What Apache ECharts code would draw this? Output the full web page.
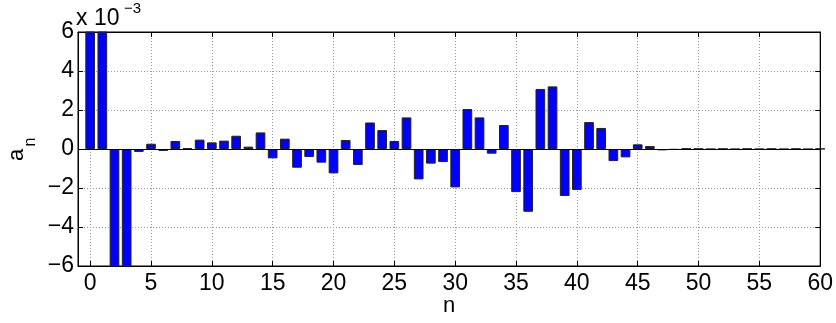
<!DOCTYPE html>
<html><head><meta charset="utf-8">
<script src="https://cdn.jsdelivr.net/npm/echarts@6/dist/echarts.min.js"></script>
<style>html,body{margin:0;padding:0;background:#fff}#c{width:836px;height:323px}</style>
</head><body><div id="c"></div>
<script>
// n index
const nValues = [];
for (let i = 0; i <= 60; i++) nValues.push(i);
// a_n values, in units of 1e-3 (n = 0 .. 60)
const aValues = [
  14, 11, -12, -9, -0.15, 0.27, -0.10, 0.41, 0.05, 0.48,
  0.34, 0.43, 0.68, 0.12, 0.85, -0.48, 0.53, -0.96, -0.41, -0.70,
  -1.25, 0.46, -0.82, 1.36, 0.97, 0.41, 1.62, -1.56, -0.75, -0.67,
  -1.97, 2.05, 1.62, -0.24, 1.23, -2.21, -3.22, 3.08, 3.21, -2.41,
  -2.10, 1.38, 1.08, -0.62, -0.43, 0.24, 0.15, -0.07, -0.04, 0.02,
  0.01, -0.01, 0.01, -0.01, 0.01, -0.01, 0.01, -0.01, 0.01, -0.01, 0.01
];
const xTicks = [0, 5, 10, 15, 20, 25, 30, 35, 40, 45, 50, 55, 60];
const yTicks = [-6, -4, -2, 0, 2, 4, 6];

const FONT = 'Liberation Sans, Arial, Helvetica, sans-serif';
const FS = 23;
const chart = echarts.init(document.getElementById('c'), null, {renderer: 'canvas'});
const fmtY = v => (v < 0 ? '\u2212' + Math.abs(v) : String(v));
const gridLine = {show: true, lineStyle: {color: '#9a9a9a', type: [1, 2], width: 1}};
const axLine = {show: true, onZero: false, lineStyle: {color: '#000', width: 1}};

chart.setOption({
  animation: false,
  backgroundColor: '#fff',
  grid: {left: 78, top: 32, width: 743, height: 234, show: true, borderColor: '#000', borderWidth: 1, backgroundColor: 'transparent'},
  xAxis: [{
    type: 'value', min: -1, max: 60, position: 'bottom',
    axisLine: axLine,
    axisTick: {show: true, inside: true, length: 5, customValues: xTicks, lineStyle: {color: '#000'}},
    axisLabel: {show: true, customValues: xTicks, color: '#000', fontFamily: FONT, fontSize: FS, margin: 6},
    splitLine: gridLine
  }, {
    type: 'value', min: -1, max: 60, position: 'top',
    axisLine: axLine,
    axisTick: {show: true, inside: true, length: 5, customValues: xTicks, lineStyle: {color: '#000'}},
    axisLabel: {show: false},
    splitLine: {show: false}
  }],
  yAxis: [{
    type: 'value', min: yTicks[0], max: yTicks[yTicks.length - 1], interval: 2, position: 'left',
    axisLine: axLine,
    axisTick: {show: true, inside: true, length: 5, lineStyle: {color: '#000'}},
    axisLabel: {show: true, color: '#000', fontFamily: FONT, fontSize: FS, margin: 4, formatter: fmtY},
    splitLine: gridLine
  }, {
    type: 'value', min: yTicks[0], max: yTicks[yTicks.length - 1], interval: 2, position: 'right',
    axisLine: axLine,
    axisTick: {show: true, inside: true, length: 5, lineStyle: {color: '#000'}},
    axisLabel: {show: false},
    splitLine: {show: false}
  }],
  series: [{
    type: 'bar',
    xAxisIndex: 0, yAxisIndex: 0,
    data: nValues.map((n, i) => [n, aValues[i]]),
    barWidth: 9.7,
    clip: true,
    itemStyle: {color: '#0000ff', borderColor: '#222', borderWidth: 1},
    markLine: {
      silent: true, symbol: 'none', animation: false,
      label: {show: false},
      lineStyle: {color: '#000', type: 'solid', width: 1},
      data: [{yAxis: 0}]
    }
  }],
  graphic: [
    {type: 'text', x: 76, y: 19, style: {text: 'x 10', fontFamily: FONT, fontSize: FS, fill: '#000', textAlign: 'left', textVerticalAlign: 'middle'}},
    {type: 'text', x: 124, y: 9, style: {text: '\u22123', fontFamily: FONT, fontSize: 15, fill: '#000', textAlign: 'left', textVerticalAlign: 'middle'}},
    {type: 'text', x: 16.5, y: 155, rotation: Math.PI / 2, style: {text: 'a', fontFamily: FONT, fontSize: 22, fill: '#000', textAlign: 'center', textVerticalAlign: 'middle'}},
    {type: 'text', x: 31, y: 142, rotation: Math.PI / 2, style: {text: 'n', fontFamily: FONT, fontSize: 16, fill: '#000', textAlign: 'center', textVerticalAlign: 'middle'}},
    {type: 'text', x: 449, y: 306, style: {text: 'n', fontFamily: FONT, fontSize: 22, fill: '#000', textAlign: 'center', textVerticalAlign: 'middle'}}
  ]
});
</script>
</body></html>
